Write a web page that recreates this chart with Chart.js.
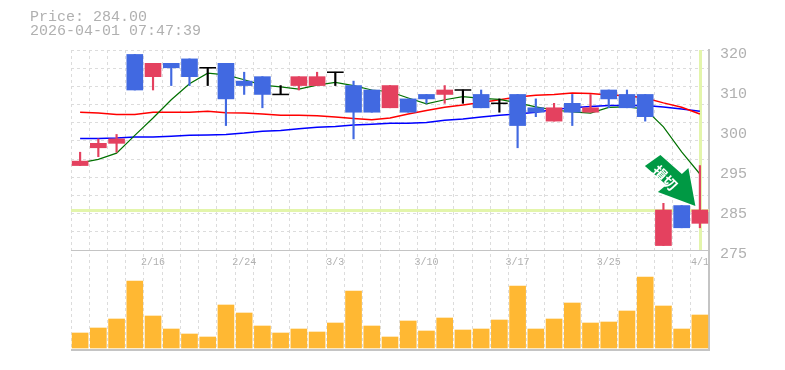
<!DOCTYPE html>
<html><head><meta charset="utf-8">
<style>html,body{margin:0;padding:0;background:#fff;width:785px;height:370px;overflow:hidden}
#h{position:absolute;left:30px;top:11px;font:15px/14px "Liberation Mono",monospace;color:#b0b0b0;white-space:pre}
canvas{position:absolute;left:0;top:0}</style>
<script src="https://cdn.jsdelivr.net/npm/chart.js@4"></script></head>
<body><canvas id="c" width="785" height="370"></canvas>
<div id="h">Price: 284.00
2026-04-01 07:47:39</div>
<script>
const dates=['2/9','2/10','2/12','2/13','2/16','2/17','2/18','2/19','2/20','2/24','2/25','2/26','2/27','3/2','3/3','3/4','3/5','3/6','3/9','3/10','3/11','3/12','3/13','3/16','3/17','3/18','3/19','3/23','3/24','3/25','3/26','3/27','3/30','3/31','4/1'];
const opens =[294,298,299,319,314,317,318,316,317,313,314,310,312,312,315,312,311,307,309,310,310,311,310,308,310,307,304,308,306,311,310,310,276,285,281];
const closes=[295,299,300,311,317,316,314,316,309,312,310,310,314,314,315,306,306,312,306,309,311,311,307,308,303,306,307,306,307,309,307,305,284,280,284];
const highs =[297,300,301,319,317,317,318,316,317,315,314,312,314,315,315,313,311,312,309,310,312,311,311,309,310,309,308,310,310,311,311,310,285.5,285,294];
const lows  =[294,296,297,311,311,312,312,312,303,310,307,310,311,312,312,300,306,307,306,308,308,308,307,306,298,305,304,303,306,307,307,304,276,280,280];
const volumes=[15,20,29,67,32,19,14,11,43,35,22,15,19,16,25,57,22,11,27,17,30,18,19,28,62,19,29,45,25,26,37,71,42,19,33];
const ma5 =[294.6,295.4,296.8,300.8,304.7,308.8,312.4,314.8,314.4,313.3,312.1,311.7,311.2,312.1,312.7,312.0,311.0,310.6,309.2,307.9,308.8,309.5,309.1,308.9,308.1,307.2,306.5,306.1,305.8,307.1,307.2,306.7,302.7,297.1,292.1];
const ma25=[306.0,305.8,305.5,305.5,306.0,306.0,306.0,306.2,305.9,305.8,305.6,305.3,305.3,305.2,304.9,304.6,304.3,304.7,305.6,306.4,307.1,307.6,308.2,308.8,309.4,309.8,310.0,310.3,310.2,309.9,309.7,309.2,308.1,307.1,305.6];
const ma75=[300.1,300.1,300.2,300.4,300.4,300.6,300.8,300.9,301.0,301.3,301.7,301.9,302.3,302.6,302.8,303.1,303.3,303.5,303.5,303.7,304.2,304.5,304.9,305.3,305.6,306.0,306.6,307.0,307.3,307.5,307.5,307.5,307.2,306.7,306.2];
const priceTickValues=[320,311,302,293,284,275];
const priceTickLabels=['320','310','300','295','285','275'];
const lastPrice=284;
const badge='損切';

const UP='#e4415f',DOWN='#4169e1',DOJI='#000000',VOL='#ffb833',GRID='#dcdcdc',EDGE='#c4c4c4',TXT='#b0b0b0',MARK='#e3f5ab',ARROW='#009944';
const col=i=>closes[i]>opens[i]?UP:closes[i]<opens[i]?DOWN:DOJI;
const colors=dates.map((d,i)=>col(i));
const body=dates.map((d,i)=>closes[i]===opens[i]?[opens[i]-0.1,opens[i]+0.1]:[Math.min(opens[i],closes[i]),Math.max(opens[i],closes[i])]);
const wick=dates.map((d,i)=>[lows[i],highs[i]]);

const overlay={id:'overlay',
 beforeDatasetsDraw(ch){const c=ch.ctx,a=ch.chartArea,x=ch.scales.x,y=ch.scales.y;
  c.save();c.fillStyle=MARK;
  c.fillRect(a.left,Math.round(y.getPixelForValue(lastPrice))-1,a.right-a.left,3);
  c.fillRect(Math.round(x.getPixelForValue(dates.length-1))-1,a.top,3,y.bottom-a.top);
  c.restore();},
 afterDatasetsDraw(ch){const c=ch.ctx,x=ch.scales.x,y=ch.scales.y;
  const tx=x.getPixelForValue(dates.length-1)-4.5,ty=y.getPixelForValue(lastPrice)-4;
  const pts=[[-35,-51],[-13.5,-32],[-7,-38],[0,0],[-37.5,-14],[-29,-21],[-50.5,-40]];
  c.save();c.beginPath();pts.forEach((p,i)=>i?c.lineTo(tx+p[0],ty+p[1]):c.moveTo(tx+p[0],ty+p[1]));c.closePath();
  c.fillStyle=ARROW;c.strokeStyle='#fff';c.lineWidth=1.5;c.lineJoin='miter';c.stroke();c.fill();
  c.translate(tx-30.5,ty-28);c.rotate(Math.PI/4);
  c.fillStyle='#fff';c.font='bold 14px "Noto Sans CJK JP"';c.textAlign='center';c.textBaseline='middle';
  c.fillText(badge,0,0);c.restore();}
};

new Chart(document.getElementById('c'),{
 data:{labels:dates,datasets:[
  {type:'line',label:'MA75',data:ma75,yAxisID:'y',borderColor:'#0000ff',borderWidth:1.5,pointRadius:0,tension:0,order:4},
  {type:'line',label:'MA25',data:ma25,yAxisID:'y',borderColor:'#ff0000',borderWidth:1.5,pointRadius:0,tension:0,order:3},
  {type:'line',label:'MA5',data:ma5,yAxisID:'y',borderColor:'#007000',borderWidth:1.2,pointRadius:0,tension:0,order:2},
  {type:'bar',label:'wick',data:wick,yAxisID:'y',backgroundColor:colors,barThickness:1.5,grouped:false,order:1},
  {type:'bar',label:'body',data:body,yAxisID:'y',backgroundColor:colors,barThickness:16,grouped:false,order:0},
  {type:'bar',label:'volume',data:volumes,yAxisID:'v',backgroundColor:VOL,barThickness:16,grouped:false,order:5}
 ]},
 options:{responsive:false,animation:false,devicePixelRatio:1,
  layout:{padding:{left:71,top:50,bottom:20,right:0}},
  plugins:{legend:{display:false},tooltip:{enabled:false},title:{display:false}},
  scales:{
   x:{type:'category',position:{y:275},offset:true,
      grid:{offset:true,color:GRID,lineWidth:1,drawTicks:false},
      border:{display:false,dash:[3,3]},
      ticks:{autoSkip:false,maxRotation:0,padding:6,color:TXT,font:{family:'"Liberation Mono",monospace',size:10},
        callback(v,i){return i%5===4?dates[i]:'';}}},
   y:{type:'linear',position:'right',stack:'p',stackWeight:2,min:275,max:320,
      afterBuildTicks(s){const t=priceTickValues.map(v=>({value:v,lab:true}));
        for(let k=1;k<11;k++){t.push({value:275+k*45/11});}
        t.sort((a,b)=>b.value-a.value);s.ticks=t;},
      afterFit(s){s.width=76;},
      grid:{drawTicks:false,lineWidth:1,color(c){const t=c.tick;if(!t)return'transparent';if(t.value===275)return EDGE;return (t.lab&&t.value!==320)?'transparent':GRID;}},
      border:{color:EDGE,width:2,dash(c){return c.tick&&c.tick.value===275?[]:[3,3];}},
      ticks:{autoSkip:false,padding:11,labelOffset:4,color:TXT,font:{family:'"Liberation Mono",monospace',size:15},
        callback(v){const i=priceTickValues.indexOf(v);return i>=0?priceTickLabels[i]:'';}}},
   v:{type:'linear',position:'right',stack:'p',stackWeight:1,min:-2,max:98,
      afterBuildTicks(s){s.ticks=[{value:-2}];},
      afterFit(s){s.width=76;},
      grid:{drawTicks:false,color:EDGE,lineWidth:2},
      border:{color:EDGE,width:2},
      ticks:{callback(){return '';}}}
  }},
 plugins:[overlay]
});
</script></body></html>
